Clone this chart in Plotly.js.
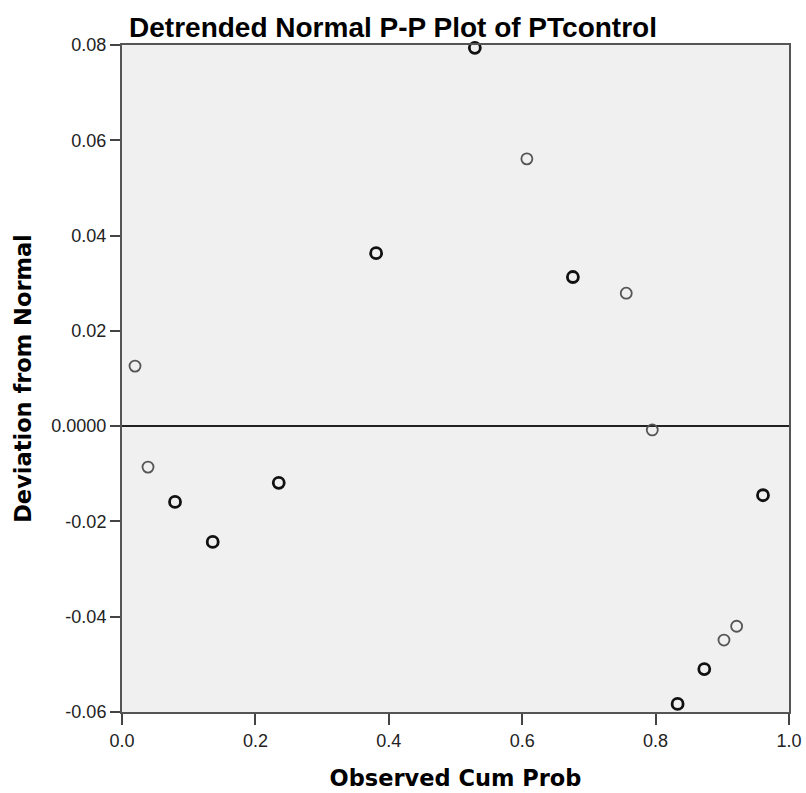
<!DOCTYPE html>
<html>
<head>
<meta charset="utf-8">
<script src="https://cdn.plot.ly/plotly-3.0.1.min.js"></script>
<style>
  html, body { margin: 0; padding: 0; background: #fff; }
  #chart { width: 806px; height: 793px; }
</style>
</head>
<body>
<div id="chart"></div>
<script>
// Observed cumulative probability of each PTcontrol value
const observedCumProb = [0.0195, 0.039, 0.0795, 0.136, 0.235, 0.381, 0.529, 0.607,
  0.676, 0.756, 0.795, 0.833, 0.873, 0.9025, 0.9215, 0.961];
// Deviation of the observed from the expected normal cumulative probability
const deviation = [0.0126, -0.0086, -0.0159, -0.0243, -0.0119, 0.0363, 0.0794, 0.0561,
  0.0313, 0.0279, -0.0008, -0.0583, -0.0510, -0.0449, -0.0420, -0.0145];
// Number of cases sharing each value (tied cases overplot and look heavier)
const caseCount = [1, 1, 2, 2, 2, 2, 2, 1, 2, 1, 1, 2, 2, 1, 1, 2];

const yTickVals = [0.08, 0.06, 0.04, 0.02, 0, -0.02, -0.04, -0.06];
const yTickText = ['0.08', '0.06', '0.04', '0.02', '0.0000', '-0.02', '-0.04', '-0.06'];
const xTickVals = [0, 0.2, 0.4, 0.6, 0.8, 1.0];
const xTickText = ['0.0', '0.2', '0.4', '0.6', '0.8', '1.0'];

const sans = 'Liberation Sans, Arial, sans-serif';
const wide = 'DejaVu Sans, Verdana, sans-serif';

const trace = {
  type: 'scatter',
  mode: 'markers',
  x: observedCumProb,
  y: deviation,
  cliponaxis: false,
  marker: {
    symbol: 'circle-open',
    size: 11,
    color: caseCount.map(c => c > 1 ? '#111' : '#555'),
    line: {
      width: caseCount.map(c => c > 1 ? 2.8 : 1.8)
    }
  },
  hoverinfo: 'x+y'
};

const layout = {
  width: 806,
  height: 793,
  margin: { l: 122, r: 17, t: 45, b: 81 },
  paper_bgcolor: '#ffffff',
  plot_bgcolor: '#f0f0f0',
  showlegend: false,
  font: { family: sans, size: 18, color: '#222' },
  title: {
    text: '<b>Detrended Normal P-P Plot of PTcontrol</b>',
    font: { family: sans, size: 28, color: '#000' },
    x: 0.4876, xanchor: 'center',
    y: 0.966, yanchor: 'middle'
  },
  xaxis: {
    range: [0, 1.0],
    tickvals: xTickVals,
    ticktext: xTickText,
    ticks: 'outside',
    ticklen: 11,
    tickwidth: 2,
    tickcolor: '#444',
    showgrid: false,
    zeroline: false,
    showline: true,
    linecolor: '#555',
    linewidth: 2,
    mirror: true,
    tickfont: { family: sans, size: 18, color: '#222' },
    title: {
      text: '<b>Observed Cum Prob</b>',
      font: { family: wide, size: 22.5, color: '#000' },
      standoff: 21
    }
  },
  yaxis: {
    range: [-0.06, 0.08],
    tickvals: yTickVals,
    ticktext: yTickText,
    ticks: 'outside',
    ticklen: 10,
    tickwidth: 2,
    tickcolor: '#444',
    showgrid: false,
    zeroline: true,
    zerolinecolor: '#222',
    zerolinewidth: 1.5,
    showline: true,
    linecolor: '#555',
    linewidth: 2,
    mirror: true,
    tickfont: { family: sans, size: 18, color: '#222' },
    title: {
      text: '<b>Deviation from Normal</b>',
      font: { family: wide, size: 22.5, color: '#000' },
      standoff: 13
    }
  }
};

Plotly.newPlot('chart', [trace], layout, { displayModeBar: false, staticPlot: true });
</script>
</body>
</html>
